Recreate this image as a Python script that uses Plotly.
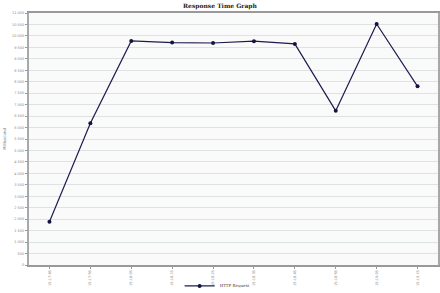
import plotly.graph_objects as go

times = ["15:17:45", "15:17:55", "15:18:05", "15:18:15", "15:18:25",
         "15:18:35", "15:18:45", "15:18:55", "15:19:05", "15:19:15"]
response_ms = [1890, 6190, 9780, 9710, 9690, 9770, 9650, 6730, 10520, 7800]
series_name = "HTTP Request"

fig = go.Figure()
fig.add_trace(go.Scatter(
    x=times, y=response_ms, name=series_name, mode="lines+markers",
    line=dict(color="#1c1c4e", width=1.2),
    marker=dict(color="#141440", size=4, symbol="circle"),
    showlegend=True,
))

fig.update_layout(
    width=440, height=293,
    margin=dict(l=29, r=2, t=13, b=28, autoexpand=False),
    paper_bgcolor="white",
    plot_bgcolor="#fafafa",
    separators=". ",
    title=dict(text="<b>Response Time Graph</b>", x=0.5, xanchor="center",
               y=1 - 6 / 293, yanchor="middle",
               font=dict(family="DejaVu Serif, serif", size=6, color="#222")),
    showlegend=True,
    legend=dict(orientation="h", x=0.46, xanchor="center", y=-0.083, yanchor="middle",
                font=dict(family="DejaVu Serif, serif", size=4, color="#444"),
                itemwidth=30, bgcolor="rgba(0,0,0,0)"),
    font=dict(family="DejaVu Sans", size=4, color="#777"),
)

fig.update_xaxes(
    type="category", range=[-0.5, len(times) - 0.5], automargin=False,
    tickangle=-90, ticks="outside", ticklen=2, tickcolor="#999",
    tickfont=dict(size=3.5, color="#888"),
    showgrid=False, showline=True, linecolor="#999", linewidth=1.5, mirror=True,
    zeroline=False,
)
fig.update_yaxes(
    range=[0, 11000], dtick=500, tickformat=",d", automargin=False,
    ticks="outside", ticklen=2, tickcolor="#999",
    tickfont=dict(size=3.5, color="#888"),
    showgrid=True, gridcolor="#dde3e3", gridwidth=1,
    showline=True, linecolor="#a8a8a8", linewidth=2, mirror=True,
    zeroline=False,
    title=dict(text="Millisecond", font=dict(size=4, color="#777"), standoff=6),
)

fig.write_html("out.html")
